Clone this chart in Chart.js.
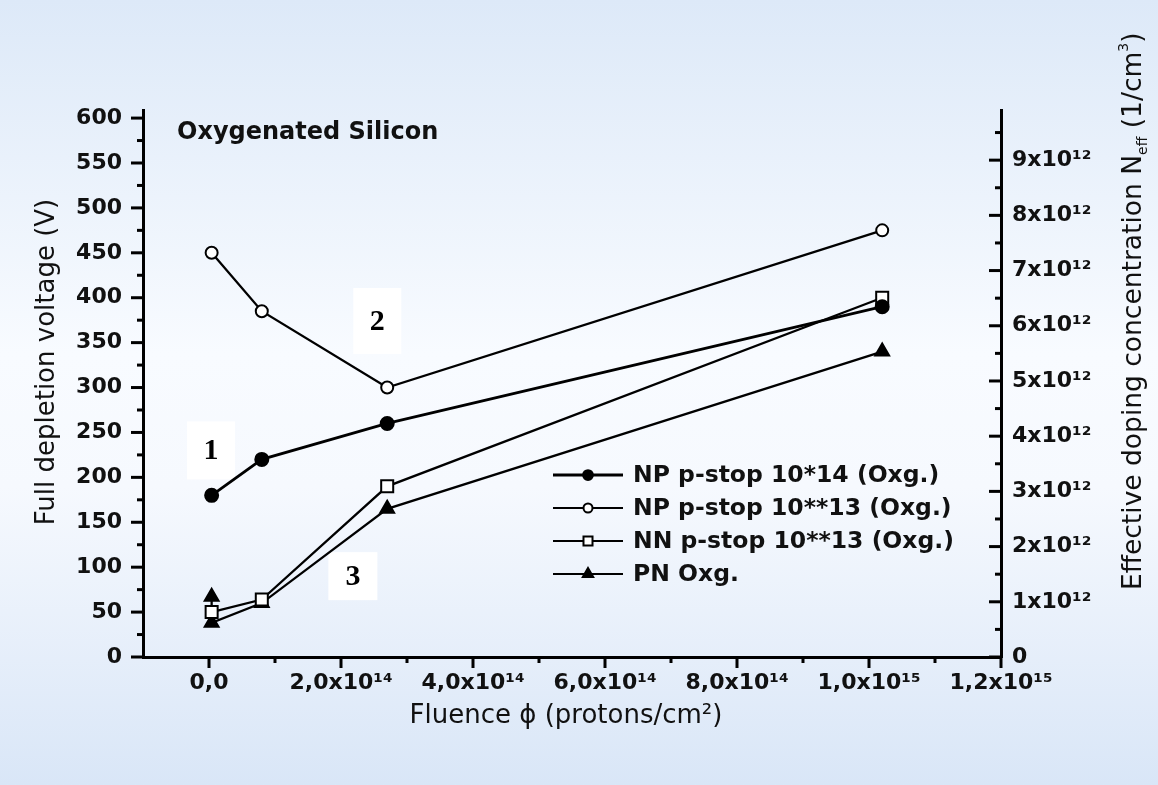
<!DOCTYPE html>
<html>
<head>
<meta charset="utf-8">
<script src="https://cdn.jsdelivr.net/npm/chart.js@4.4.0/dist/chart.umd.min.js"></script>
<style>
  html, body { margin: 0; padding: 0; background: #fff; }
  canvas { display: block; }
</style>
</head>
<body>
<canvas id="myChart" width="1158" height="785"></canvas>
<script>
// fluence values (protons/cm2) and full depletion voltages (V)
var fluence = [4e12, 0.8e14, 2.7e14, 1.02e15];
var npStop14 = [180, 220, 260, 390];
var npStop13 = [450, 385, 300, 475];
var nnStop13 = [50, 64, 190, 400];
// PN has two points at the lowest fluence
var pnFluence = [4e12, 4e12, 0.8e14, 2.7e14, 1.02e15];
var pnOxg = [67, 38, 60, 165, 340];

var seriesNames = ['NP p-stop 10*14 (Oxg.)', 'NP p-stop 10**13 (Oxg.)', 'NN p-stop 10**13 (Oxg.)', 'PN Oxg.'];

var xTicks = [0, 2e14, 4e14, 6e14, 8e14, 1e15, 1.2e15];
var xTickLabels = ['0,0', '2,0x10¹⁴', '4,0x10¹⁴', '6,0x10¹⁴', '8,0x10¹⁴', '1,0x10¹⁵', '1,2x10¹⁵'];
var vTicks = [0, 50, 100, 150, 200, 250, 300, 350, 400, 450, 500, 550, 600];
var nTicks = [0, 1e12, 2e12, 3e12, 4e12, 5e12, 6e12, 7e12, 8e12, 9e12];
var nTickLabels = ['0', '1x10¹²', '2x10¹²', '3x10¹²', '4x10¹²', '5x10¹²', '6x10¹²', '7x10¹²', '8x10¹²', '9x10¹²'];

var vMax = 609;
var neffPerVolt = 1.627e10;

var notes = [
  { text: '1', x: 3e12, y: 230, w: 48, h: 58 },
  { text: '2', x: 2.55e14, y: 374, w: 48, h: 66 },
  { text: '3', x: 2.18e14, y: 90, w: 49, h: 48 }
];

function pts(xs, ys) {
  return ys.map(function (y, i) { return { x: xs[i], y: y }; });
}

var tickFont = { family: 'DejaVu Sans', size: 22, weight: 'bold' };

var background = {
  id: 'background',
  beforeDraw: function (chart) {
    var ctx = chart.ctx;
    var g = ctx.createLinearGradient(0, 0, 0, chart.height);
    g.addColorStop(0, '#dde9f8');
    g.addColorStop(0.45, '#f8fbff');
    g.addColorStop(0.62, '#f6f9fe');
    g.addColorStop(1, '#d9e6f7');
    ctx.save();
    ctx.fillStyle = g;
    ctx.fillRect(0, 0, chart.width, chart.height);
    ctx.restore();
  },
  beforeDatasetsDraw: function (chart) {
    // numbered notes sit under the lines
    var ctx = chart.ctx, x = chart.scales.x, y = chart.scales.y;
    ctx.save();
    notes.forEach(function (n) {
      var cx = x.getPixelForValue(n.x), cy = y.getPixelForValue(n.y);
      ctx.fillStyle = '#fff';
      ctx.fillRect(cx - n.w / 2, cy - n.h / 2, n.w, n.h);
      ctx.fillStyle = '#000';
      ctx.font = 'bold 30px "Liberation Serif"';
      ctx.textAlign = 'center';
      ctx.textBaseline = 'middle';
      ctx.fillText(n.text, cx, cy + 1);
    });
    ctx.restore();
  }
};

var extras = {
  id: 'extras',
  afterDatasetsDraw: function (chart) {
    var ctx = chart.ctx;
    var x = chart.scales.x, y = chart.scales.y, y1 = chart.scales.y1;
    ctx.save();
    ctx.strokeStyle = '#000';
    ctx.lineWidth = 3;
    function line(a, b, c, d) { ctx.beginPath(); ctx.moveTo(a, b); ctx.lineTo(c, d); ctx.stroke(); }

    // tick marks, majors and minors
    xTicks.forEach(function (v, i) {
      var px = x.getPixelForValue(v);
      line(px, x.top, px, x.top + 11);
      if (i < xTicks.length - 1) {
        var m = x.getPixelForValue((v + xTicks[i + 1]) / 2);
        line(m, x.top, m, x.top + 6);
      }
    });
    vTicks.forEach(function (v, i) {
      var py = y.getPixelForValue(v);
      line(y.right, py, y.right - 12, py);
      if (i < vTicks.length - 1) {
        var m = y.getPixelForValue((v + vTicks[i + 1]) / 2);
        line(y.right, m, y.right - 6, m);
      }
    });
    nTicks.forEach(function (v) {
      var py = y1.getPixelForValue(v);
      line(y1.left, py, y1.left - 12, py);
      var m = y1.getPixelForValue(v + 0.5e12);
      line(y1.left, m, y1.left - 6, m);
    });

    // legend
    var lx = 553, ly = 475;
    chart.data.datasets.forEach(function (ds, i) {
      var yy = ly + i * 33;
      ctx.lineWidth = i === 0 ? 3 : 2;
      ctx.strokeStyle = '#000';
      line(lx, yy, lx + 70, yy);
      ctx.fillStyle = ds.pointBackgroundColor;
      ctx.strokeStyle = '#000';
      ctx.lineWidth = 2;
      Chart.helpers.drawPoint(ctx, { pointStyle: ds.pointStyle, radius: ds.pointRadius * 0.75, rotation: 0, borderWidth: 2 }, lx + 35, yy);
      ctx.fillStyle = '#111';
      ctx.font = 'bold 23.5px "DejaVu Sans"';
      ctx.textAlign = 'left';
      ctx.textBaseline = 'middle';
      ctx.fillText(ds.label, lx + 80, yy + 1);
    });

    // plot label
    ctx.fillStyle = '#111';
    ctx.font = 'bold 24px "DejaVu Sans"';
    ctx.textAlign = 'left';
    ctx.textBaseline = 'middle';
    ctx.fillText('Oxygenated Silicon', 177, 133);

    // axis titles
    ctx.font = '26px "DejaVu Sans"';
    ctx.textAlign = 'center';
    ctx.fillText('Fluence ϕ (protons/cm²)', 566, 716);

    ctx.save();
    ctx.translate(47, 362);
    ctx.rotate(-Math.PI / 2);
    ctx.fillText('Full depletion voltage (V)', 0, 0);
    ctx.restore();

    ctx.save();
    ctx.translate(1134, 590);
    ctx.rotate(-Math.PI / 2);
    ctx.textAlign = 'left';
    var px = 0;
    function part(t, size, dy) {
      ctx.font = size + 'px "DejaVu Sans"';
      ctx.fillText(t, px, dy);
      px += ctx.measureText(t).width;
    }
    part('Effective doping concentration N', 26.5, 0);
    part('eff', 14, 9);
    part(' (1/cm', 26.5, 0);
    part('3', 14, -10);
    part(')', 26.5, 0);
    ctx.restore();

    ctx.restore();
  }
};

var ctx = document.getElementById('myChart').getContext('2d');
var chart = new Chart(ctx, {
  type: 'line',
  data: {
    datasets: [
      { label: seriesNames[0], data: pts(fluence, npStop14), pointStyle: 'circle', pointRadius: 6.5,
        pointBackgroundColor: '#000', borderWidth: 2.8 },
      { label: seriesNames[1], data: pts(fluence, npStop13), pointStyle: 'circle', pointRadius: 6,
        pointBackgroundColor: '#fff', borderWidth: 2.3 },
      { label: seriesNames[2], data: pts(fluence, nnStop13), pointStyle: 'rect', pointRadius: 8.5,
        pointBackgroundColor: '#fff', borderWidth: 2.3 },
      { label: seriesNames[3], data: pts(pnFluence, pnOxg), pointStyle: 'triangle', pointRadius: 8,
        pointBackgroundColor: '#000', borderWidth: 2.3 }
    ].map(function (d) {
      d.borderColor = '#000';
      d.pointBorderColor = '#000';
      d.pointBorderWidth = 2;
      d.fill = false;
      d.tension = 0;
      d.clip = false;
      return d;
    })
  },
  options: {
    responsive: false,
    animation: false,
    devicePixelRatio: 1,
    layout: { padding: { top: 110, left: 0, right: 0, bottom: 0 } },
    plugins: { legend: { display: false }, tooltip: { enabled: false } },
    scales: {
      x: {
        type: 'linear', min: -1e14, max: 1.2e15,
        afterBuildTicks: function (s) { s.ticks = xTicks.map(function (v) { return { value: v }; }); },
        afterFit: function (s) { s.height = 128; },
        grid: { display: false, drawTicks: false },
        border: { display: true, color: '#000', width: 3 },
        ticks: {
          autoSkip: false, maxRotation: 0, padding: 13, color: '#111', font: tickFont,
          callback: function (v) { var i = xTicks.indexOf(v); return i < 0 ? '' : xTickLabels[i]; }
        }
      },
      y: {
        type: 'linear', position: 'left', min: 0, max: vMax,
        afterBuildTicks: function (s) { s.ticks = vTicks.map(function (v) { return { value: v }; }); },
        afterFit: function (s) { s.width = 143; },
        grid: { display: false, drawTicks: false },
        border: { display: true, color: '#000', width: 3 },
        ticks: { padding: 21, color: '#111', font: tickFont }
      },
      y1: {
        type: 'linear', position: 'right', min: 0, max: vMax * neffPerVolt,
        afterBuildTicks: function (s) { s.ticks = nTicks.map(function (v) { return { value: v }; }); },
        afterFit: function (s) { s.width = 157; },
        grid: { display: false, drawTicks: false },
        border: { display: true, color: '#000', width: 3 },
        ticks: {
          padding: 11, color: '#111', font: tickFont,
          callback: function (v) { var i = nTicks.indexOf(v); return i < 0 ? '' : nTickLabels[i]; }
        }
      }
    }
  },
  plugins: [background, extras]
});
</script>
</body>
</html>
